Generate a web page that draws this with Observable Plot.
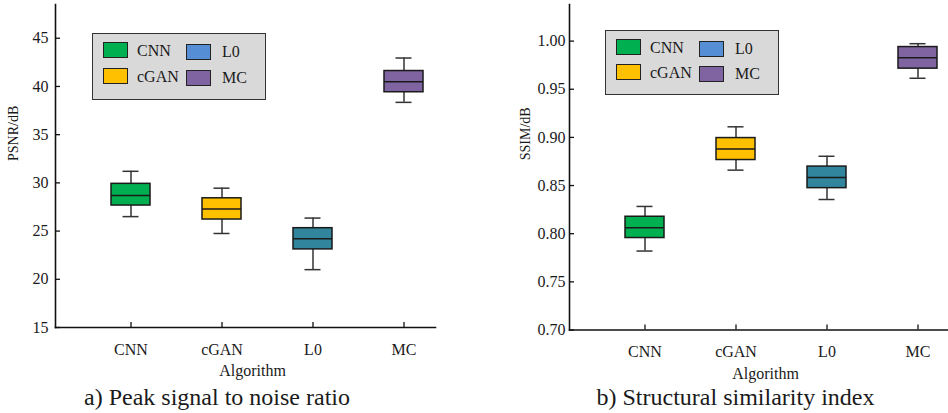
<!DOCTYPE html>
<html><head><meta charset="utf-8">
<script src="https://cdn.jsdelivr.net/npm/d3@7"></script>
<script src="https://cdn.jsdelivr.net/npm/@observablehq/plot@0.6"></script>
<style>
body{margin:0;background:#fff;}
#wrap{position:relative;width:948px;height:413px;font-family:"Liberation Serif","Times New Roman",Times,"DejaVu Serif",serif;color:#1a1a1a;overflow:hidden}
.panel{position:absolute;top:0}
.legend{position:absolute;background:#d9d9d9;border:1.5px solid #333;box-sizing:border-box}
.sw{position:absolute;width:25px;height:16px;border:1.5px solid #222;box-sizing:border-box}
.lb{position:absolute;font-size:16px;line-height:16px;white-space:nowrap}
.cap{position:absolute;font-size:24px;white-space:nowrap;transform:translate(-50%,-50%);line-height:1}
</style></head><body><div id="wrap"></div>
<script>
const algorithms = ["CNN", "cGAN", "L0", "MC"];
const boxColors = ["#00b050", "#ffc000", "#31859c", "#8064a2"];
const legendColors = ["#00b050", "#ffc000", "#558ed5", "#8064a2"];

const psnrLow    = [26.5, 24.75, 21.0, 38.35];
const psnrQ1     = [27.65, 26.2, 23.1, 39.4];
const psnrMedian = [28.7, 27.3, 24.2, 40.5];
const psnrQ3     = [29.9, 28.4, 25.3, 41.6];
const psnrHigh   = [31.2, 29.45, 26.35, 42.95];

const ssimLow    = [0.782, 0.866, 0.8355, 0.9614];
const ssimQ1     = [0.7955, 0.8765, 0.8473, 0.9714];
const ssimMedian = [0.8062, 0.888, 0.8583, 0.9828];
const ssimQ3     = [0.8176, 0.8993, 0.8697, 0.9938];
const ssimHigh   = [0.8283, 0.911, 0.8804, 0.9973];

const psnrTicks = [15, 20, 25, 30, 35, 40, 45];
const ssimTicks = [0.70, 0.75, 0.80, 0.85, 0.90, 0.95, 1.00];
const psnrDomain = [15, 48.5];
const ssimDomain = [0.70, 1.038];

const wrap = document.getElementById("wrap");
const serif = "'Liberation Serif', 'Times New Roman', Times, 'DejaVu Serif', serif";

function panel(cfg) {
  const rows = algorithms.map((a, i) => ({
    alg: a, low: cfg.low[i], q1: cfg.q1[i], med: cfg.med[i], q3: cfg.q3[i], high: cfg.high[i]
  }));
  const dark = "#1a1a1a", whisk = "#333";
  const chart = Plot.plot({
    width: 474, height: 385,
    marginLeft: cfg.ml, marginRight: cfg.mr, marginTop: 4, marginBottom: cfg.mb,
    style: {fontFamily: serif, fontSize: "16px", color: "#1a1a1a", background: "transparent", overflow: "visible"},
    x: {type: "band", domain: algorithms, range: cfg.xr, paddingInner: 0.573, paddingOuter: 0, label: null},
    y: {domain: cfg.domain, label: null},
    color: {domain: algorithms, range: boxColors},
    marks: [
      Plot.ruleX(rows, {x: "alg", y1: "low", y2: "high", stroke: whisk, strokeWidth: 1.5}),
      Plot.barY(rows, {x: "alg", y1: "q1", y2: "q3", fill: "alg", stroke: dark, strokeWidth: 1.5}),
      Plot.tickY(rows, {x: "alg", y: "med", stroke: dark, strokeWidth: 1.5}),
      Plot.tickY(rows, {x: "alg", y: "low", stroke: whisk, strokeWidth: 1.5, insetLeft: 11.5, insetRight: 11.5}),
      Plot.tickY(rows, {x: "alg", y: "high", stroke: whisk, strokeWidth: 1.5, insetLeft: 11.5, insetRight: 11.5}),
      Plot.axisY({ticks: cfg.ticks, tickSize: 0, tickPadding: cfg.yPad, tickFormat: cfg.fmt, fontSize: 16, label: null}),
      Plot.axisY({ticks: cfg.ticks, tickSize: 5, dx: 5, tickFormat: () => "", label: null, stroke: "#111", strokeWidth: 1.3}),
      Plot.axisX({tickSize: 0, tickPadding: 16, fontSize: 16, label: null}),
      Plot.axisX({tickSize: 5, dy: -5, tickFormat: () => "", label: null, stroke: "#111", strokeWidth: 1.3}),
      Plot.frame({anchor: "left", stroke: "#111", strokeWidth: 1.6}),
      Plot.frame({anchor: "bottom", stroke: "#111", strokeWidth: 1.6}),
      Plot.text([cfg.ylabel], {frameAnchor: "left", rotate: -90, dx: cfg.ylDx, dy: cfg.ylDy, fontSize: 14, fill: "#1a1a1a"}),
      Plot.text(["Algorithm"], {frameAnchor: "bottom", lineAnchor: "middle", dx: 7, dy: cfg.algDy, fontSize: 16, fill: "#1a1a1a"})
    ]
  });
  chart.classList.add("panel");
  chart.style.left = cfg.left + "px";
  wrap.appendChild(chart);

  // legend
  const lg = document.createElement("div");
  lg.className = "legend";
  Object.assign(lg.style, {left: cfg.lg[0] + "px", top: cfg.lg[1] + "px", width: "174px", height: cfg.lg[2] + "px"});
  algorithms.forEach((a, i) => {
    const col = Math.floor(i / 2), row = i % 2;
    const sw = document.createElement("div");
    sw.className = "sw";
    sw.style.background = legendColors[i];
    sw.style.left = [10, 93][col] + "px";
    sw.style.top = (cfg.rowY[row] + col * 1.5) + "px";
    lg.appendChild(sw);
    const lb = document.createElement("div");
    lb.className = "lb";
    lb.textContent = a;
    lb.style.left = [44, 129][col] + "px";
    lb.style.top = (cfg.rowY[row] + 0.5 + col * 1.5) + "px";
    lg.appendChild(lb);
  });
  wrap.appendChild(lg);

  const cap = document.createElement("div");
  cap.className = "cap";
  cap.textContent = cfg.caption;
  cap.style.left = cfg.capX + "px";
  cap.style.top = "397px";
  wrap.appendChild(cap);
}

panel({
  left: 0, ml: 55, mr: 39, mb: 58, xr: [110.5, 423.5],
  domain: psnrDomain, ticks: psnrTicks, fmt: d3.format("d"), yPad: 7,
  low: psnrLow, q1: psnrQ1, med: psnrMedian, q3: psnrQ3, high: psnrHigh,
  ylabel: "PSNR/dB", ylDx: -42, ylDy: -5, algDy: 43,
  lg: [92, 33, 67], rowY: [8, 34],
  caption: "a) Peak signal to noise ratio", capX: 217
});
panel({
  left: 474, ml: 95, mr: 1, mb: 55.5, xr: [149.5, 463.5],
  domain: ssimDomain, ticks: ssimTicks, fmt: d3.format(".2f"), yPad: 4,
  low: ssimLow, q1: ssimQ1, med: ssimMedian, q3: ssimQ3, high: ssimHigh,
  ylabel: "SSIM/dB", ylDx: -44, ylDy: -7, algDy: 43.5,
  lg: [605, 30, 65], rowY: [8, 33],
  caption: "b) Structural similarity index", capX: 735.5
});
</script></body></html>
